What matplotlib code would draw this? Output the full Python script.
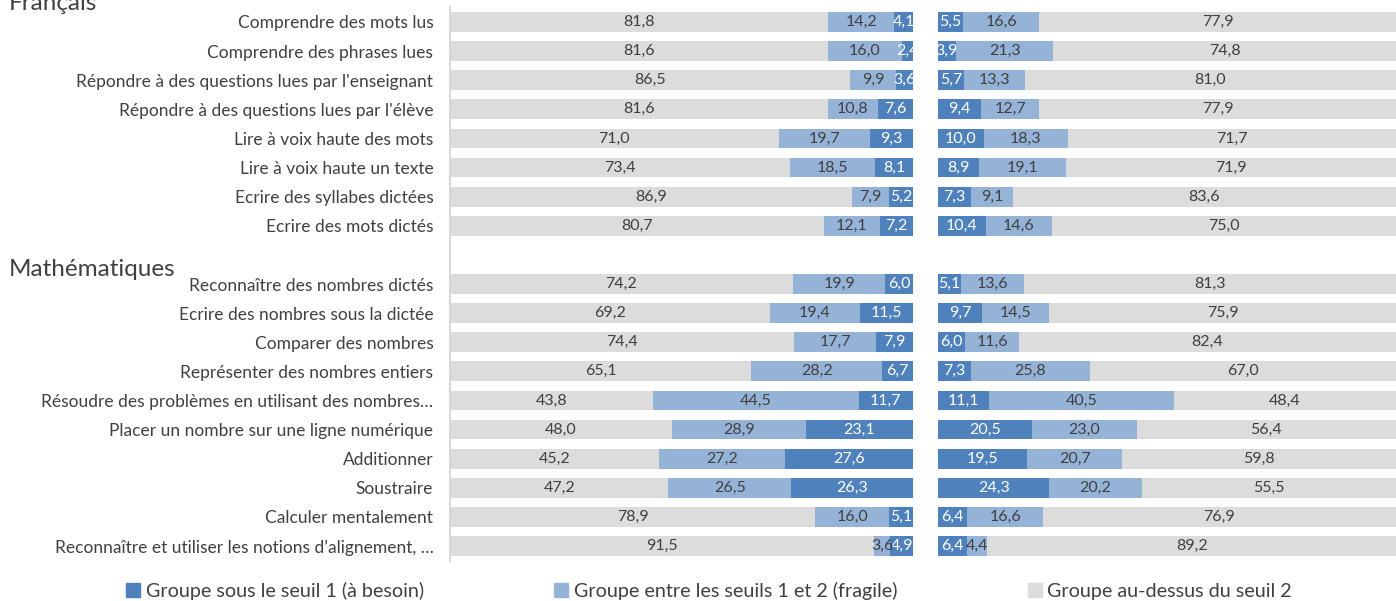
import matplotlib.pyplot as plt
from matplotlib.patches import Patch

plt.rcParams['font.family'] = ['Lato', 'DejaVu Sans']

# categories (top to bottom), "" marks the gap between the two domains
categories = [
    "Comprendre des mots lus",
    "Comprendre des phrases lues",
    "Répondre à des questions lues par l'enseignant",
    "Répondre à des questions lues par l'élève",
    "Lire à voix haute des mots",
    "Lire à voix haute un texte",
    "Ecrire des syllabes dictées",
    "Ecrire des mots dictés",
    "",
    "Reconnaître des nombres dictés",
    "Ecrire des nombres sous la dictée",
    "Comparer des nombres",
    "Représenter des nombres entiers",
    "Résoudre des problèmes en utilisant des nombres…",
    "Placer un nombre sur une ligne numérique",
    "Additionner",
    "Soustraire",
    "Calculer mentalement",
    "Reconnaître et utiliser les notions d’alignement, …",
]

# left panel
left_besoin = [4.1, 2.4, 3.6, 7.6, 9.3, 8.1, 5.2, 7.2, None,
               6.0, 11.5, 7.9, 6.7, 11.7, 23.1, 27.6, 26.3, 5.1, 4.9]
left_fragile = [14.2, 16.0, 9.9, 10.8, 19.7, 18.5, 7.9, 12.1, None,
                19.9, 19.4, 17.7, 28.2, 44.5, 28.9, 27.2, 26.5, 16.0, 3.6]
left_dessus = [81.8, 81.6, 86.5, 81.6, 71.0, 73.4, 86.9, 80.7, None,
               74.2, 69.2, 74.4, 65.1, 43.8, 48.0, 45.2, 47.2, 78.9, 91.5]

# right panel
right_besoin = [5.5, 3.9, 5.7, 9.4, 10.0, 8.9, 7.3, 10.4, None,
                5.1, 9.7, 6.0, 7.3, 11.1, 20.5, 19.5, 24.3, 6.4, 6.4]
right_fragile = [16.6, 21.3, 13.3, 12.7, 18.3, 19.1, 9.1, 14.6, None,
                 13.6, 14.5, 11.6, 25.8, 40.5, 23.0, 20.7, 20.2, 16.6, 4.4]
right_dessus = [77.9, 74.8, 81.0, 77.9, 71.7, 71.9, 83.6, 75.0, None,
                81.3, 75.9, 82.4, 67.0, 48.4, 56.4, 59.8, 55.5, 76.9, 89.2]

DARK = '#4F81BD'
LIGHT = '#95B3D7'
GREY = '#DDDCDC'
TEXT = '#404040'

fig = plt.figure(figsize=(13.96, 6.01), dpi=100)
ax_l = fig.add_axes([0.3223, 0.0672, 0.3317, 0.9205])
ax_r = fig.add_axes([0.6719, 0.0672, 0.3281, 0.9205])

n = len(categories)
ypos = list(range(n))


def fmt(v):
    return f"{v:.1f}".replace(".", ",")


def draw_panel(ax, besoin, fragile, dessus):
    for i in ypos:
        if besoin[i] is None:
            continue
        segs = [(besoin[i], DARK, 'white'), (fragile[i], LIGHT, TEXT),
                (dessus[i], GREY, TEXT)]
        start = 0
        for val, col, tcol in segs:
            ax.barh(i, val, left=start, height=0.68, color=col, linewidth=0)
            ax.text(start + val / 2, i, fmt(val), ha='center', va='center',
                    fontsize=11.5, color=tcol)
            start += val
    ax.set_xlim(0, 100)
    ax.set_ylim(n - 0.5, -0.5)
    ax.set_xticks([])
    ax.set_yticks([])
    for s in ax.spines.values():
        s.set_visible(False)


draw_panel(ax_l, left_besoin, left_fragile, left_dessus)
ax_l.invert_xaxis()
ax_l.spines['right'].set_visible(True)
ax_l.spines['right'].set_color('#D9D9D9')
ax_l.spines['right'].set_linewidth(1.5)
ax_l.spines['right'].set_position(('data', 100))

draw_panel(ax_r, right_besoin, right_fragile, right_dessus)

ax_l.set_yticks(ypos)
ax_l.set_yticklabels(categories, fontsize=12.5, color=TEXT)
ax_l.yaxis.tick_left()
ax_l.tick_params(axis='y', length=0, pad=12)

fig.text(0.006, 0.995, "Français", fontsize=17.5, color=TEXT, va='center', ha='left')
fig.text(0.006, 0.551, "Mathématiques", fontsize=17.5, color=TEXT, va='center', ha='left')

handles = [
    Patch(color=DARK, label='Groupe sous le seuil 1 (à besoin)'),
    Patch(color=LIGHT, label='Groupe entre les seuils 1 et 2 (fragile)'),
    Patch(color=GREY, label='Groupe au-dessus du seuil 2'),
]
fig.legend(handles=handles, loc='center', bbox_to_anchor=(0.508, 0.017), ncol=3,
           frameon=False, fontsize=14.2, handlelength=0.7, handleheight=0.7,
           handletextpad=0.3, columnspacing=6.6, labelcolor=TEXT)

fig.savefig('out.png', dpi=100)
plt.close(fig)
